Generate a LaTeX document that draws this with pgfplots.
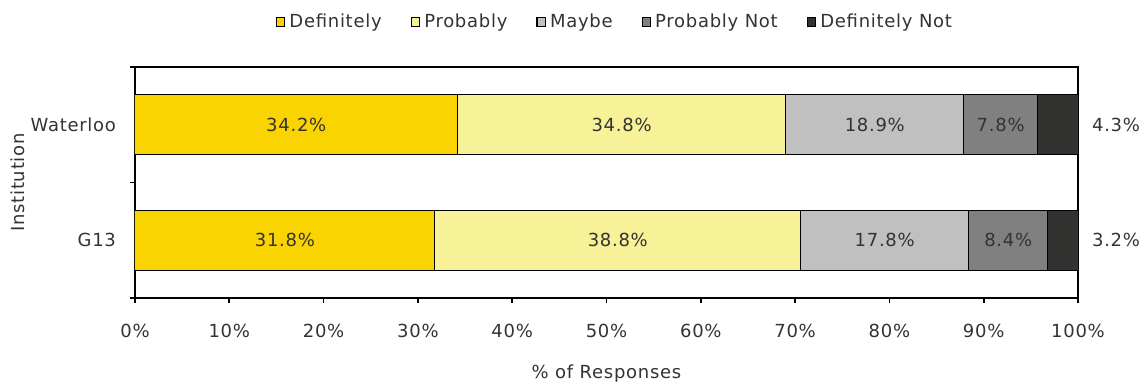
\documentclass[border=0pt]{standalone}
\usepackage{pgfplots}
\pgfplotsset{compat=1.18}
\usepackage{fontspec}
\setmainfont{DejaVu Sans}[LetterSpace=4]
\definecolor{cdef}{HTML}{FAD400}
\definecolor{cprob}{HTML}{F7F197}
\definecolor{cmaybe}{HTML}{C0C0C0}
\definecolor{cpnot}{HTML}{808080}
\definecolor{cdnot}{HTML}{323331}
\definecolor{txt}{HTML}{333333}
\begin{document}
\begin{tikzpicture}[font=\fontsize{9}{11}\selectfont, text=txt]
\useasboundingbox (0,0) rectangle (572.5pt,191.5pt);
\pgfplotsset{
  frame/.style={at={(67.5pt,42.5pt)}, anchor=south west, scale only axis,
    width=471.5pt, height=115.5pt, xmin=0, xmax=100, ymin=-0.5, ymax=1.5},
}
\begin{axis}[
  frame,
  xbar stacked, bar width=30pt,
  axis line style={line width=0.6pt},
  tick align=outside, xtick pos=bottom, ytick pos=left,
  major tick length=2.5pt, tick style={black, line width=0.8pt},
  xtick={0,10,...,100},
  xticklabels={0\%,10\%,20\%,30\%,40\%,50\%,60\%,70\%,80\%,90\%,100\%},
  xticklabel style={yshift=-7pt},
  ytick={-0.5,0.5,1.5}, yticklabels={{},{},{}},
  extra y ticks={0,1}, extra y tick labels={G13,Waterloo},
  extra y tick style={major tick length=0pt, yticklabel style={xshift=-6pt}},
  xlabel={\% of Responses},
  xlabel style={at={(axis description cs:0.5,-0.325)}, anchor=center},
  ylabel={Institution},
  ylabel style={at={(axis description cs:-0.124,0.5)}, anchor=center},
  legend columns=5,
  legend style={draw=none, at={(0.51,1.195)}, anchor=center,
    /tikz/every even column/.append style={column sep=12.5pt}},
  legend image code/.code={\draw[#1,draw=black,line width=0.6pt] (0pt,-2.1pt) rectangle (4.2pt,2.1pt);},
  every axis plot/.append style={draw=black, line width=0.5pt},
]
\addplot[fill=cdef] coordinates {(31.8,0) (34.2,1)};
\addplot[fill=cprob] coordinates {(38.8,0) (34.8,1)};
\addplot[fill=cmaybe] coordinates {(17.8,0) (18.9,1)};
\addplot[fill=cpnot] coordinates {(8.4,0) (7.8,1)};
\addplot[fill=cdnot] coordinates {(3.2,0) (4.3,1)};
\legend{Definitely,Probably,Maybe,Probably Not,Definitely Not}
\draw[line width=1.2pt] (rel axis cs:0,1) -- (rel axis cs:0,0) -- (rel axis cs:1,0);
\end{axis}
\begin{axis}[frame, hide axis,
  point meta=explicit symbolic,
  nodes near coords, every node near coord/.append style={anchor=center, text=txt}]
\addplot[draw=none, mark=none] coordinates {
  (15.9,0) [31.8\%] (51.2,0) [38.8\%] (79.5,0) [17.8\%] (92.6,0) [8.4\%]
  (17.1,1) [34.2\%] (51.6,1) [34.8\%] (78.45,1) [18.9\%] (91.8,1) [7.8\%]
};
\addplot[draw=none, mark=none, every node near coord/.append style={anchor=west, xshift=3.5pt}] coordinates {
  (100,0) [3.2\%] (100,1) [4.3\%]
};
\end{axis}
\end{tikzpicture}
\end{document}
